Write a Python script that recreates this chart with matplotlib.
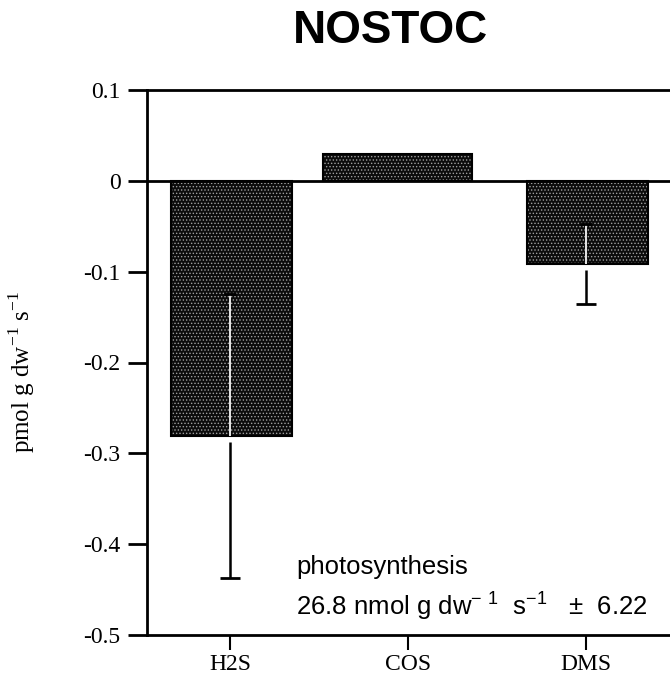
import matplotlib
matplotlib.use("Agg")
import matplotlib.pyplot as plt
import numpy as np

categories = ["H2S", "COS", "DMS"]
values = [-0.281, 0.029, -0.092]
errors = [0.156, 0.0, 0.044]
yticks = [0.1, 0, -0.1, -0.2, -0.3, -0.4, -0.5]
ytick_labels = ["0.1", "0", "-0.1", "-0.2", "-0.3", "-0.4", "-0.5"]
title = "NOSTOC"
ylabel = r"pmol g dw$^{\mathregular{-1}}$ s$^{\mathregular{-1}}$"
note1 = "photosynthesis"
note2 = r"26.8 nmol g dw$^{\mathregular{-\ 1}}$  s$^{\mathregular{-1}}$   ±  6.22"

# style (positions/sizes)
bar_offsets = [0.01, -0.06, 0.01]
bar_widths = [0.68, 0.84, 0.68]

plt.rcParams['hatch.linewidth'] = 0.6
plt.rcParams['hatch.color'] = "#a0a0a0"

fig = plt.figure(figsize=(6.7, 6.83), dpi=100)
ax = fig.add_axes([147/670, 1-635/683, 1-147/670, (635-90)/683])

x = np.arange(len(categories))
bx = x + np.array(bar_offsets)
ax.bar(bx, values, width=bar_widths, color="#0c0c0c", edgecolor="#a0a0a0",
       hatch=".....", linewidth=0, zorder=2)
ax.bar(bx, values, width=bar_widths, fill=False, edgecolor="black",
       linewidth=1.5, zorder=3)

for xi, v, e in zip(x, values, errors):
    if e <= 0:
        continue
    # outer (black) part
    ax.vlines(xi, v - 0.006, v - e, color="black", lw=1.8, zorder=4)
    ax.hlines(v - e, xi - 0.055, xi + 0.055, color="black", lw=2, zorder=4)
    # inner (white) part
    ax.vlines(xi, v, v + e, color="#e8e8e8", lw=1.4, zorder=4)
    ax.hlines(v + e, xi - 0.035, xi + 0.035, color="black", lw=2, zorder=4)

ax.axhline(0, color="black", lw=2, zorder=5)

ax.set_xlim(-83/178, 440/178)
ax.set_ylim(-0.5, 0.1)
ax.set_yticks(yticks)
ax.set_yticklabels(ytick_labels, fontfamily="Liberation Serif", fontsize=17)
ax.set_xticks(x)
ax.set_xticklabels(categories, fontfamily="Liberation Serif", fontsize=17)
ax.tick_params(axis="y", direction="out", length=14, width=2, pad=5)
ax.tick_params(axis="x", direction="out", length=11, width=1.5, pad=3)

for s in ["left", "top", "bottom"]:
    ax.spines[s].set_linewidth(2)
ax.spines["right"].set_visible(False)

fig.text(390/670, 1-31/683, title, fontfamily="Liberation Sans",
         fontweight="bold", fontsize=33, ha="center", va="center")
fig.text(22/670, 1-372/683, ylabel, fontfamily="Liberation Serif",
         fontsize=18, rotation=90, ha="center", va="center")
ax.text(0.37, -0.4255, note1, fontfamily="Liberation Sans", fontsize=18.5,
        ha="left", va="center")
ax.text(0.37, -0.468, note2, fontfamily="Liberation Sans", fontsize=18.5,
        ha="left", va="center")

fig.savefig("out.png", dpi=100)
